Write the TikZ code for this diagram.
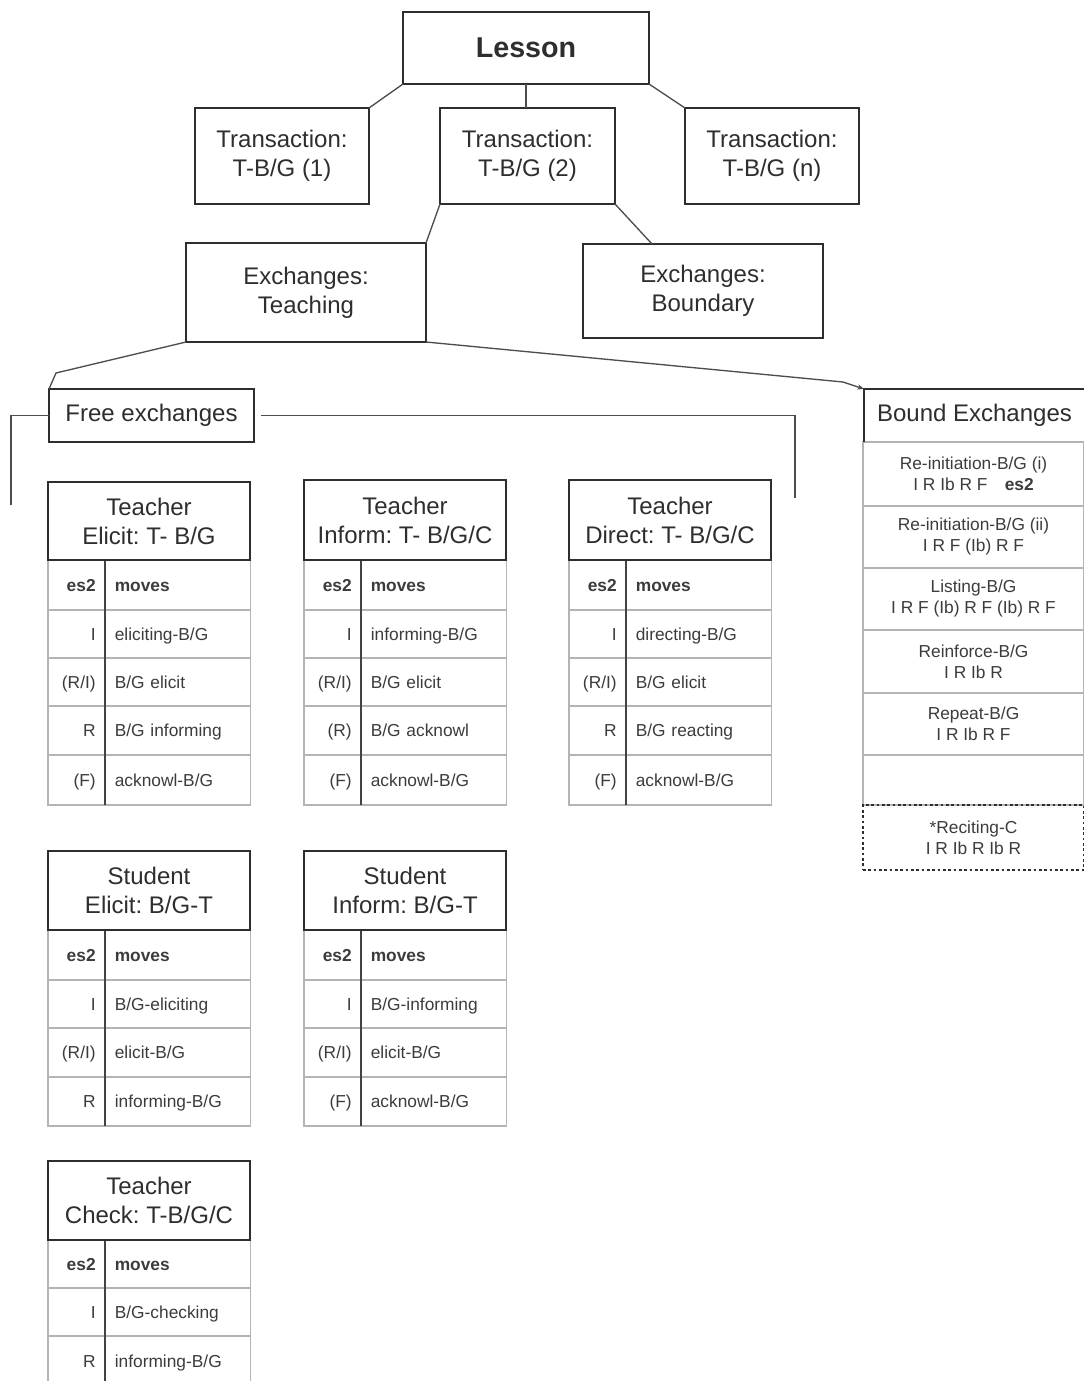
\documentclass[tikz,border=0pt]{standalone}
\usepackage{fontspec}
\setmainfont{Liberation Sans}
\usetikzlibrary{arrows.meta}
\frenchspacing
\definecolor{ink}{HTML}{2E2E2E}
\definecolor{cellrule}{HTML}{B4B4B4}
\definecolor{celltext}{HTML}{3C3C3C}
\tikzset{
  box/.style={draw=ink, line width=1.3pt, inner sep=0pt, outer sep=0pt, align=center, text=ink,
    font=\fontsize{18}{21.75}\selectfont},
  conn/.style={draw=ink!85, line width=1pt},
  cellL/.style={draw=cellrule, line width=0.8pt, minimum width=42.75pt, text width=28.75pt,
    inner xsep=7pt, inner ysep=0pt, outer sep=0pt, align=right, text=celltext,
    text height=9.5pt, text depth=0.5pt, font=\fontsize{13}{15}\selectfont},
  cellR/.style={cellL, minimum width=108.75pt, text width=94.75pt, align=left},
  divline/.style={draw=ink!90, line width=0.9pt},
  brow/.style={draw=cellrule, line width=0.8pt, minimum width=165.75pt, inner sep=0pt, outer sep=0pt,
    align=center, text=celltext, font=\fontsize{13}{15.75}\selectfont},
  dashbox/.style={brow, draw=ink, dash pattern=on 2pt off 2pt},
}
% box from pixel corners
\newcommand\bx[7][]{%
  \node[box,minimum width={(#5-#3)*0.75pt},minimum height={(#6-#4)*0.75pt},#1] (#2) at ({(#3+#5)/2},{(#4+#6)/2}) {#7};}
% table header (width 202 px)
\newcommand\xhead[5]{%
  \node[box,minimum width=151.5pt,minimum height={(#4-#3)*0.75pt}] (#1) at ({#2+101},{(#3+#4)/2}) {#5};}
% table row
\newcommand\xrow[6]{%
  \node[cellL,minimum height={(#4-#3)*0.75pt}] (#1l) at ({#2+28.5},{(#3+#4)/2}) {#5};
  \node[cellR,minimum height={(#4-#3)*0.75pt}] (#1r) at ({#2+130},{(#3+#4)/2}) {#6};}
% bound exchanges row
\newcommand\brow[5][brow]{%
  \node[#1,minimum height={(#4-#3)*0.75pt}] (#2) at (973.5,{(#3+#4)/2}) {#5};}
\begin{document}
\begin{tikzpicture}[x=0.75pt,y=-0.75pt]
\clip (0,0) rectangle (1084,1381);
\fill[white] (0,0) rectangle (1084,1381);

% hierarchy
\bx[font=\fontsize{21.5}{24}\selectfont\bfseries]{lesson}{403}{12}{649}{84}{Lesson}
\bx{t1}{195}{108}{369}{204}{Transaction:\\T-B/G (1)}
\bx{t2}{440}{108}{615}{204}{Transaction:\\T-B/G (2)}
\bx{tn}{685}{108}{859}{204}{Transaction:\\T-B/G (n)}
\bx{teach}{186}{243}{426}{342}{Exchanges:\\Teaching}
\bx{bnd}{583}{244}{823}{338}{Exchanges:\\Boundary}
\bx{free}{49}{389}{254}{442}{Free exchanges}
\node[box,draw=none,minimum width=165.75pt,minimum height=39.75pt] (bhead) at (974.5,415.5) {Bound Exchanges};

\draw[conn] (lesson.south west) -- (t1.north east);
\draw[conn] (lesson.south) -- (lesson.south |- t2.north);
\draw[conn] (lesson.south east) -- (tn.north west);
\draw[conn] (t2.south west) -- (teach.north east);
\draw[conn] (t2.south east) -- ([xshift=51.75pt]bnd.north west);
\coordinate (kf) at (56,373);
\draw[conn] (teach.south west) -- (kf) -- (free.north west);
\coordinate (kb) at (843,382);
\draw[conn,-{Stealth[length=5pt,width=4pt]}] (teach.south east) -- (kb) -- (bhead.north west);
\coordinate (fl) at (11,505);
\coordinate (fr) at (795,498);
\draw[conn] (free.west) -| (fl);
\draw[conn] ([xshift=5pt]free.east) -| (fr);

% Bound exchanges column
\brow{b1}{442}{506}{Re-initiation-B/G (i)\\I R Ib R F\quad\textbf{es2}}
\brow{b2}{506}{568}{Re-initiation-B/G (ii)\\I R F (Ib) R F}
\brow{b3}{568}{630}{Listing-B/G\\I R F (Ib) R F (Ib) R F}
\brow{b4}{630}{693}{Reinforce-B/G\\I R Ib R}
\brow{b5}{693}{755}{Repeat-B/G\\I R Ib R F}
\brow{b6}{755}{805}{}
\brow[dashbox]{b7}{805}{870}{*Reciting-C\\I R Ib R Ib R}
\draw[box] (bhead.south west) -- (bhead.north west) -- (bhead.north east);

% Teacher Elicit
\xrow{ea}{48}{560}{610}{\textbf{es2}}{\textbf{moves}}
\xrow{eb}{48}{610}{658}{I}{eliciting-B/G}
\xrow{ec}{48}{658}{706}{(R/I)}{B/G elicit}
\xrow{ed}{48}{706}{755}{R}{B/G informing}
\xrow{ee}{48}{755}{805}{(F)}{acknowl-B/G}
\draw[divline] (eal.north east) -- (eel.south east);
\xhead{eh}{48}{482}{560}{Teacher\\Elicit: T- B/G}

% Teacher Inform
\xrow{ia}{304}{560}{610}{\textbf{es2}}{\textbf{moves}}
\xrow{ib}{304}{610}{658}{I}{informing-B/G}
\xrow{ic}{304}{658}{706}{(R/I)}{B/G elicit}
\xrow{id}{304}{706}{755}{(R)}{B/G acknowl}
\xrow{ie}{304}{755}{805}{(F)}{acknowl-B/G}
\draw[divline] (ial.north east) -- (iel.south east);
\xhead{ih}{304}{480}{560}{Teacher\\Inform: T- B/G/C}

% Teacher Direct
\xrow{da}{569}{560}{610}{\textbf{es2}}{\textbf{moves}}
\xrow{db}{569}{610}{658}{I}{directing-B/G}
\xrow{dc}{569}{658}{706}{(R/I)}{B/G elicit}
\xrow{dd}{569}{706}{755}{R}{B/G reacting}
\xrow{de}{569}{755}{805}{(F)}{acknowl-B/G}
\draw[divline] (dal.north east) -- (del.south east);
\xhead{dh}{569}{480}{560}{Teacher\\Direct: T- B/G/C}

% Student Elicit
\xrow{sa}{48}{930}{980}{\textbf{es2}}{\textbf{moves}}
\xrow{sb}{48}{980}{1028}{I}{B/G-eliciting}
\xrow{sc}{48}{1028}{1077}{(R/I)}{elicit-B/G}
\xrow{sd}{48}{1077}{1126}{R}{informing-B/G}
\draw[divline] (sal.north east) -- (sdl.south east);
\xhead{sh}{48}{851}{930}{Student\\Elicit: B/G-T}

% Student Inform
\xrow{na}{304}{930}{980}{\textbf{es2}}{\textbf{moves}}
\xrow{nb}{304}{980}{1028}{I}{B/G-informing}
\xrow{nc}{304}{1028}{1077}{(R/I)}{elicit-B/G}
\xrow{nd}{304}{1077}{1126}{(F)}{acknowl-B/G}
\draw[divline] (nal.north east) -- (ndl.south east);
\xhead{nh}{304}{851}{930}{Student\\Inform: B/G-T}

% Teacher Check
\xrow{ca}{48}{1240}{1288}{\textbf{es2}}{\textbf{moves}}
\xrow{cb}{48}{1288}{1336}{I}{B/G-checking}
\xrow{cc}{48}{1336}{1386}{R}{informing-B/G}
\draw[divline] (cal.north east) -- (ccl.south east);
\xhead{ch}{48}{1161}{1240}{Teacher\\Check: T-B/G/C}
\end{tikzpicture}
\end{document}
